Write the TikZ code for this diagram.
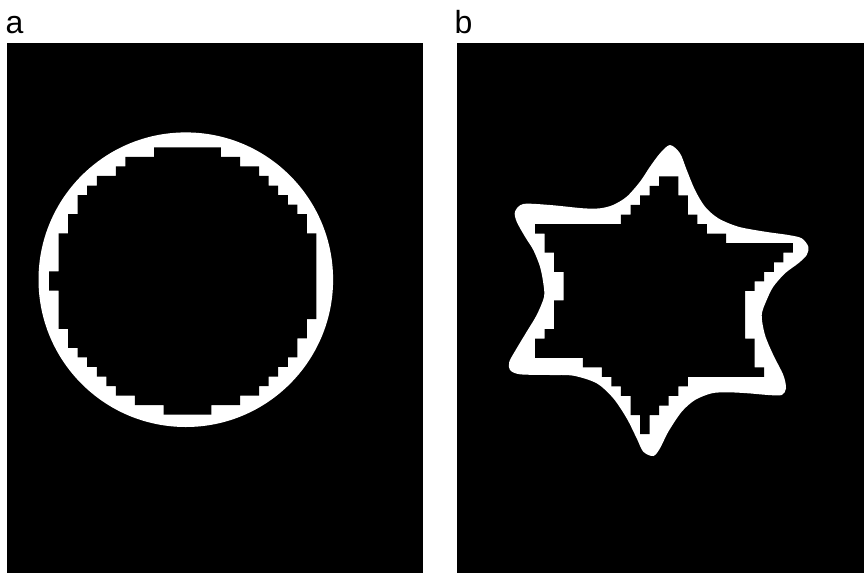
\documentclass[tikz,border=0pt]{standalone}
\usepackage{fontspec}
\setmainfont{Liberation Sans}
\begin{document}
\begin{tikzpicture}[x=1pt,y=-1pt,
  panel/.style={fill=black,draw=none},
  ring/.style={fill=white,draw=none},
  hole/.style={fill=black,draw=none},
  panellabel/.style={anchor=base west,inner sep=0pt,font=\fontsize{32}{36}\selectfont}]
\useasboundingbox (0,0) rectangle (864,573);
\fill[white] (0,0) rectangle (864,573);
% panels
\fill[panel] (6.6,42.7) rectangle (423.3,573);
\fill[panel] (456.7,42.7) rectangle (864,573);
\node[panellabel] (la) at (5.4,33) {a};
\node[panellabel] (lb) at (454.4,33) {b};
% panel a: circle
\fill[ring] (185.8,279.7) circle[radius=147.3];
\begin{scope}[xshift=49pt,yshift=-147.3pt,x=9.55pt,y=-9.55pt]
\fill[hole] (11,0)--(18,0)--(18,1)--(20,1)--(20,2)--(22,2)--(22,3)--(23,3)--(23,4)--(24,4)--(24,5)--(25,5)--(25,6)--(26,6)--(26,7)--(27,7)--(27,9)--(28,9)--(28,18)--(27,18)--(27,20)--(26,20)--(26,22)--(25,22)--(25,23)--(24,23)--(24,24)--(23,24)--(23,25)--(22,25)--(22,26)--(20,26)--(20,27)--(17,27)--(17,28)--(12,28)--(12,27)--(9,27)--(9,26)--(7,26)--(7,25)--(6,25)--(6,24)--(5,24)--(5,23)--(4,23)--(4,22)--(3,22)--(3,21)--(2,21)--(2,19)--(1,19)--(1,15)--(0,15)--(0,13)--(1,13)--(1,9)--(2,9)--(2,7)--(3,7)--(3,5)--(4,5)--(4,4)--(5,4)--(5,3)--(7,3)--(7,2)--(8,2)--(8,1)--(11,1)--cycle;
\end{scope}
% panel b: star
\fill[ring] plot[smooth cycle,tension=0.5] coordinates {
(670,145) (680,153.3) (686.7,170) (695,190) (705,206.7) (718.3,218.3) (738.3,226.7) (765,231.7) (788.3,235) (801.7,238.3) (808.3,246.7) (806.7,255) (798.3,263.3) (785,273.3) (773.3,286.7) (766.7,300) (761.7,315) (765,335) (773.3,355) (783.3,375) (786,388.3) (781.7,395) (768.3,395) (748.3,393.3) (728.3,392.3) (711.7,393.3) (695,400) (681.7,411.7) (668.3,431.7) (660,448.3) (653.3,456) (643.3,451.7) (636.7,438.3) (626.7,418.3) (613.3,398.3) (596.7,383.3) (573.3,375.7) (550,375) (520,374.3) (510,370) (509.3,361.7) (516.7,348.3) (526.7,331.7) (536.7,315) (544,297) (543.3,283.3) (540,266.7) (533.3,250) (525,236.7) (516.7,221.7) (515,211.7) (523.3,204) (550,205) (583.3,208.3) (600,208.3) (613,205) (626.7,196.7) (640,181.7) (650,166.7) (660,153.3)};
\begin{scope}[xshift=535pt,yshift=-176.3pt,x=9.55pt,y=-9.55pt]
\fill[hole] (13,0)--(15,0)--(15,2)--(16,2)--(16,4)--(17,4)--(17,5)--(18,5)--(18,6)--(20,6)--(20,7)--(27,7)--(27,8)--(26,8)--(26,9)--(25,9)--(25,10)--(24,10)--(24,11)--(23,11)--(23,12)--(22,12)--(22,17)--(23,17)--(23,20)--(24,20)--(24,21)--(16,21)--(16,22)--(15,22)--(15,23)--(14,23)--(14,24)--(13,24)--(13,25)--(12,25)--(12,27)--(11,27)--(11,25)--(10,25)--(10,23)--(9,23)--(9,22)--(8,22)--(8,21)--(7,21)--(7,20)--(5,20)--(5,19)--(0,19)--(0,17)--(1,17)--(1,16)--(2,16)--(2,13)--(3,13)--(3,10)--(2,10)--(2,8)--(1,8)--(1,6)--(0,6)--(0,5)--(9,5)--(9,4)--(10,4)--(10,3)--(11,3)--(11,2)--(12,2)--(12,1)--(13,1)--cycle;
\end{scope}
\end{tikzpicture}
\end{document}
